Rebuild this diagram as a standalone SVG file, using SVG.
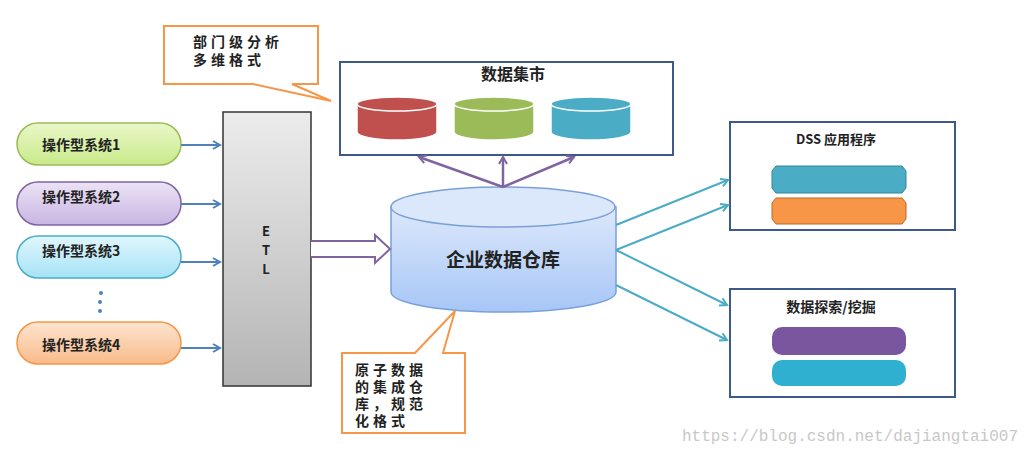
<svg xmlns="http://www.w3.org/2000/svg" width="1029" height="455" viewBox="0 0 1029 455">
<defs>
<style>
text{font-family:"Noto Sans CJK SC","Liberation Sans",sans-serif;font-weight:bold;fill:#222}
.ct{font-size:14px;letter-spacing:4px}
.pill{stroke-width:1.5}
.box{fill:#fff;stroke:#3b5a8a;stroke-width:2}
.call{fill:#fff;stroke:#f79646;stroke-width:2}
.blue{stroke:#4f81bd;stroke-width:2;fill:none;marker-end:url(#ab)}
.purp{stroke:#8064a2;stroke-width:2.5;fill:none;marker-end:url(#ap)}
.teal{stroke:#4bacc6;stroke-width:2;fill:none;marker-end:url(#at)}
</style>
<marker id="ab" markerWidth="10" markerHeight="10" refX="8" refY="5" orient="auto" markerUnits="userSpaceOnUse"><path d="M1,1 L8,5 L1,9" fill="none" stroke="#4f81bd" stroke-width="2"/></marker>
<marker id="ap" markerWidth="10" markerHeight="10" refX="8" refY="5" orient="auto" markerUnits="userSpaceOnUse"><path d="M1,1 L8,5 L1,9" fill="none" stroke="#8064a2" stroke-width="2"/></marker>
<marker id="at" markerWidth="10" markerHeight="10" refX="8" refY="5" orient="auto" markerUnits="userSpaceOnUse"><path d="M1,1 L8,5 L1,9" fill="none" stroke="#4bacc6" stroke-width="2"/></marker>
<linearGradient id="gEtl" x1="0" y1="0" x2="0" y2="1"><stop offset="0" stop-color="#ececec"/><stop offset="1" stop-color="#b4b4b4"/></linearGradient>
<linearGradient id="gDw" x1="0" y1="0" x2="0" y2="1"><stop offset="0" stop-color="#dce8fb"/><stop offset="1" stop-color="#a7c6f7"/></linearGradient>
<linearGradient id="g1" x1="0" y1="0" x2="0" y2="1"><stop offset="0" stop-color="#eaf7c8"/><stop offset="1" stop-color="#c9ea8a"/></linearGradient>
<linearGradient id="g2" x1="0" y1="0" x2="0" y2="1"><stop offset="0" stop-color="#ece3f5"/><stop offset="1" stop-color="#c8b5e2"/></linearGradient>
<linearGradient id="g3" x1="0" y1="0" x2="0" y2="1"><stop offset="0" stop-color="#e0f6fd"/><stop offset="1" stop-color="#a6e3f6"/></linearGradient>
<linearGradient id="g4" x1="0" y1="0" x2="0" y2="1"><stop offset="0" stop-color="#fde4d0"/><stop offset="1" stop-color="#f9bb8a"/></linearGradient>
</defs>
<rect width="1029" height="455" fill="#fff"/>

<g id="sys1"><rect class="pill" x="17" y="123" width="164" height="42" rx="21" fill="url(#g1)" stroke="#9bbb59"/><text x="42" y="150" font-size="14">操作型系统1</text></g>
<g id="sys2"><rect class="pill" x="17" y="182" width="164" height="43" rx="21" fill="url(#g2)" stroke="#8064a2"/><text x="42" y="202" font-size="14">操作型系统2</text></g>
<g id="sys3"><rect class="pill" x="17" y="236" width="164" height="42" rx="21" fill="url(#g3)" stroke="#4bacc6"/><text x="42" y="256" font-size="14">操作型系统3</text></g>
<g id="dots" fill="#4f81bd"><circle cx="101" cy="293" r="2"/><circle cx="100" cy="302" r="2"/><circle cx="100" cy="311" r="2"/></g>
<g id="sys4"><rect class="pill" x="17" y="322" width="164" height="42" rx="21" fill="url(#g4)" stroke="#f79646"/><text x="42" y="350" font-size="14">操作型系统4</text></g>

<g id="etl"><rect x="223" y="112" width="88" height="274" fill="url(#gEtl)" stroke="#333" stroke-width="1.5"/>
<text x="266" y="236" font-size="13" text-anchor="middle" font-family="Liberation Sans">E</text>
<text x="266" y="255" font-size="13" text-anchor="middle" font-family="Liberation Sans">T</text>
<text x="266" y="274" font-size="13" text-anchor="middle" font-family="Liberation Sans">L</text></g>

<g id="callout1"><path class="call" d="M164,26 H318 V84 H292 L331,101 L253,84 H164 Z"/>
<text class="ct" x="193" y="47">部门级分析</text><text class="ct" x="193" y="65">多维格式</text></g>

<g id="mart"><rect class="box" x="340" y="62" width="333" height="93"/>
<text x="513" y="80" font-size="16" text-anchor="middle">数据集市</text>
<g stroke="#fff" stroke-width="1.5">
<path d="M357,104 V132 A40,8 0 0 0 437,132 V104" fill="#c0504d"/><ellipse cx="397" cy="104" rx="40" ry="7" fill="#c0504d"/>
<path d="M454,104 V132 A40,8 0 0 0 534,132 V104" fill="#9bbb59"/><ellipse cx="494" cy="104" rx="40" ry="7" fill="#9bbb59"/>
<path d="M551,104 V132 A40,8 0 0 0 631,132 V104" fill="#4bacc6"/><ellipse cx="591" cy="104" rx="40" ry="7" fill="#4bacc6"/>
</g></g>

<g id="dw"><path d="M391,207 V292 A112,20 0 0 0 616,292 V207 Z" fill="url(#gDw)" stroke="#7aa0d8" stroke-width="1.5"/>
<ellipse cx="503" cy="207" rx="112" ry="20" fill="#dbe7fb" stroke="#7aa0d8" stroke-width="1.5"/>
<text x="503" y="267" font-size="19" text-anchor="middle">企业数据仓库</text></g>

<g id="callout2"><path class="call" d="M342,353 H415 L455,311 L443,353 H465 V433 H342 Z"/>
<text class="ct" x="355" y="375">原子数据</text><text class="ct" x="355" y="392">的集成仓</text><text class="ct" x="355" y="409">库，规范</text><text class="ct" x="355" y="426">化格式</text></g>

<g id="dss"><rect class="box" x="730" y="122" width="225" height="108"/>
<text x="836" y="144" font-size="13" text-anchor="middle">DSS 应用程序</text>
<path d="M776,166 H902 L906,171 V188 L902,193 H776 L772,188 V171 Z" fill="#4bacc6" stroke="#31849b"/>
<path d="M776,198 H902 L906,203 V219 L902,224 H776 L772,219 V203 Z" fill="#f79646" stroke="#c0662a"/></g>

<g id="mine"><rect class="box" x="730" y="289" width="225" height="108"/>
<text x="831" y="312" font-size="14" text-anchor="middle">数据探索/挖掘</text>
<rect x="772" y="327" width="134" height="28" rx="10" fill="#7a55a0"/>
<rect x="772" y="360" width="134" height="26" rx="10" fill="#2fb0d0"/></g>

<g id="connectors">
<path class="blue" d="M181,145 H220"/><path class="blue" d="M181,204 H220"/><path class="blue" d="M181,262 H220"/><path class="blue" d="M181,348 H220"/>
<path d="M311,241 H375 V235 L390,249 L375,263 V257 H311" fill="#fff" stroke="#8064a2" stroke-width="2"/>
<path class="purp" d="M503,187 L419,157"/><path class="purp" d="M503,187 V157"/><path class="purp" d="M503,187 L574,157"/>
<path class="teal" d="M616,225 L728,180"/><path class="teal" d="M616,250 L728,205"/><path class="teal" d="M616,250 L727,305"/><path class="teal" d="M616,285 L727,340"/>
</g>
<text x="1018" y="441" font-size="16" text-anchor="end" style="fill:#c8c8c8;font-weight:normal;font-family:'Liberation Mono',monospace">https://blog.csdn.net/dajiangtai007</text>
</svg>
